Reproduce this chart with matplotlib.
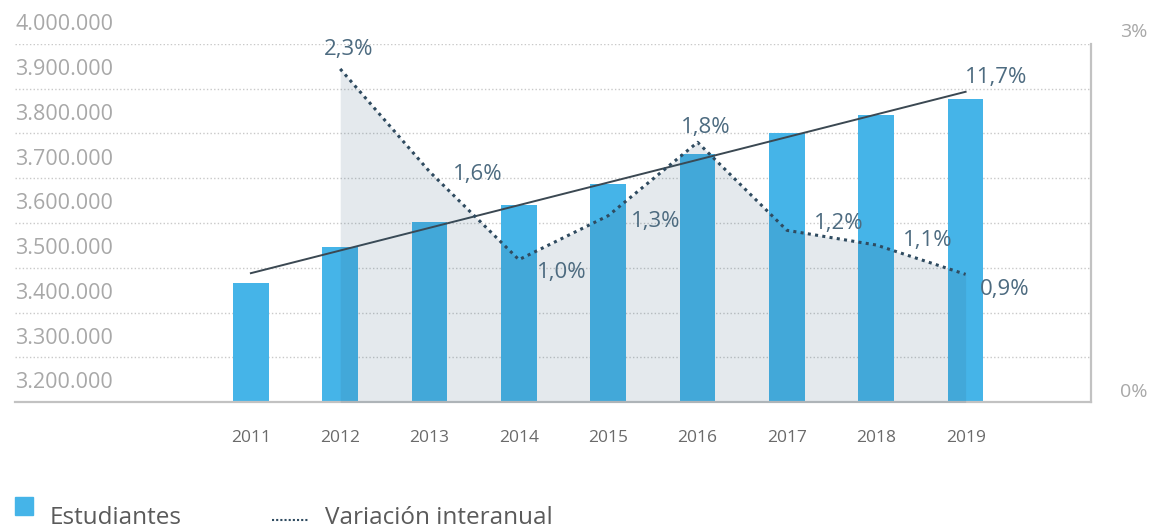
import numpy as np
import matplotlib
matplotlib.use("Agg")
import matplotlib.pyplot as plt
import matplotlib.transforms as mtransforms
from matplotlib.patches import Rectangle
from matplotlib.lines import Line2D

years = ["2011", "2012", "2013", "2014", "2015", "2016", "2017", "2018", "2019"]
estudiantes = [3466000, 3546000, 3603000, 3640000, 3687000, 3754000, 3800000, 3842000, 3877000]
var_years = ["2012", "2013", "2014", "2015", "2016", "2017", "2018", "2019"]
variacion = [2.3, 1.6, 1.0, 1.3, 1.8, 1.2, 1.1, 0.9]
var_labels = ["2,3%", "1,6%", "1,0%", "1,3%", "1,8%", "1,2%", "1,1%", "0,9%"]
total_label = "11,7%"
left_ticks = [3200000, 3300000, 3400000, 3500000, 3600000, 3700000, 3800000, 3900000, 4000000]

# label offsets in points (dx, dy) from each point
label_offsets = [(6, 14), (35, -2), (31, -9), (34, -4), (6, 11), (37, 5), (37, 3), (28, -11)]

plt.rcParams['font.family'] = ['Open Sans', 'DejaVu Sans']

BAR = "#45b4e8"
SLATE = "#2f4b60"
W, H = 1156, 530

fig = plt.figure(figsize=(W / 100, H / 100), dpi=100)
ax = fig.add_axes([0.013, 0.2415, 0.9305, 0.6755])
x = np.arange(len(years))

ax.bar(x, estudiantes, width=0.40, color=BAR, zorder=2)
ax.set_ylim(3200000, 4000000)
ax.set_xlim(-2.64, 9.40)

# gridlines
for v in left_ticks[1:]:
    ax.axhline(v, color="#c9c9c9", lw=1.0, ls=(0, (1, 1.6)), zorder=1)

# trend line through bars
coef = np.polyfit(x, estudiantes, 1)
ax.plot([x[0], x[-1]], np.polyval(coef, [x[0], x[-1]]), color="#3b4852", lw=1.4, zorder=4)

# left labels (above gridlines, inside the plot)
ytr = mtransforms.blended_transform_factory(ax.transAxes, ax.transData)
off = mtransforms.ScaledTranslation(0, 13.7 / 72, fig.dpi_scale_trans)
for v in left_ticks:
    s = f"{v:,}".replace(",", ".")
    ax.text(0, v, s, transform=ytr + off, ha="left", va="center", fontsize=15.5, color="#a8a8a8")

ax.set_yticks([])
ax.set_xticks(x)
ax.set_xticklabels(years)
ax.tick_params(axis="x", length=0, pad=20, labelsize=12.5, labelcolor="#6a6a6a")
for s in ["top", "left"]:
    ax.spines[s].set_visible(False)
ax.spines["bottom"].set_color("#c2c2c2")
ax.spines["bottom"].set_linewidth(1.6)
ax.spines["right"].set_color("#c2c2c2")
ax.spines["right"].set_linewidth(1.6)

# secondary axis for interannual variation
ax2 = ax.twinx()
ax2.set_ylim(0.03, 2.47)
ax2.set_xlim(ax.get_xlim())
xv = np.array([years.index(y) for y in var_years])
ax2.fill_between(xv, 0, variacion, color="#2f5a78", alpha=0.13, lw=0, zorder=1)
ax2.plot(xv, variacion, color=SLATE, lw=2.2, ls=(0, (1, 1.4)), zorder=3)
for xi, vi, lab, (dx, dy) in zip(xv, variacion, var_labels, label_offsets):
    ax2.annotate(lab, (xi, vi), xytext=(dx, dy), textcoords="offset points",
                 ha="center", va="center", fontsize=16, color="#4d6b80")

ax.annotate(total_label, (x[-1], np.polyval(coef, x[-1])), xytext=(22, 10),
            textcoords="offset points", ha="center", va="center", fontsize=16, color="#4d6b80", zorder=5)

ax2.set_yticks([])
for s in ["top", "left", "right", "bottom"]:
    ax2.spines[s].set_visible(False)
rtr = ax2.transAxes
ax2.text(1.040, 1.0, "3%", transform=rtr + mtransforms.ScaledTranslation(0, 8.6 / 72, fig.dpi_scale_trans),
         ha="center", va="center", fontsize=14, color="#a8a8a8")
ax2.text(1.040, 0.0, "0%", transform=rtr + mtransforms.ScaledTranslation(0, 7.2 / 72, fig.dpi_scale_trans),
         ha="center", va="center", fontsize=14, color="#a8a8a8")

# legend drawn in figure pixels
fig.patches.append(Rectangle((15 / W, 1 - 515 / H), 18 / W, 18 / H, transform=fig.transFigure,
                             color=BAR, figure=fig))
fig.text(50 / W, 1 - 518 / H, "Estudiantes", ha="left", va="center", fontsize=17.5, color="#5a5a5a")
fig.lines.append(Line2D([272 / W, 308 / W], [1 - 520 / H, 1 - 520 / H], transform=fig.transFigure,
                        color=SLATE, lw=1.5, ls=(0, (1, 1)), figure=fig))
fig.text(325 / W, 1 - 518 / H, "Variación interanual", ha="left", va="center", fontsize=17.5, color="#5a5a5a")

fig.savefig("out.png", dpi=100)
